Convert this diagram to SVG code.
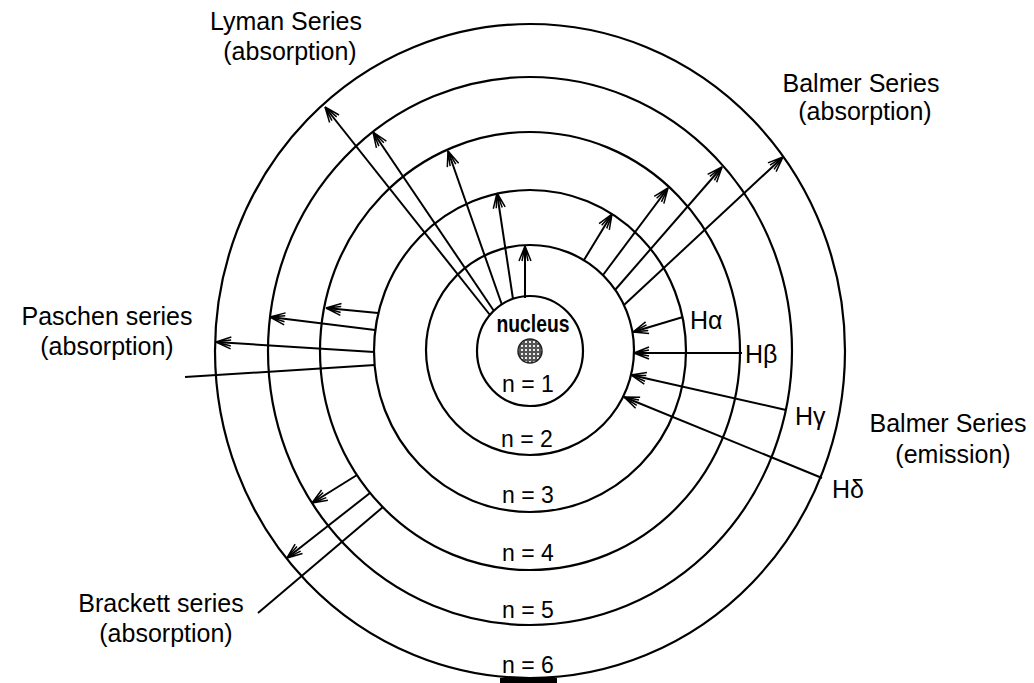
<svg xmlns="http://www.w3.org/2000/svg" width="1034" height="683" viewBox="0 0 1034 683">
<style>
.orbit{fill:none;stroke:#000;stroke-width:2.2}
.ln{fill:none;stroke:#000;stroke-width:2}
.arr{marker-end:url(#ah)}
.lbl{font-family:"Liberation Sans",Arial,sans-serif;font-size:25px;fill:#000;text-anchor:middle}
.hl{font-family:"Liberation Sans",Arial,sans-serif;font-size:25px;fill:#000}
.nl{font-family:"Liberation Sans",Arial,sans-serif;font-size:23px;fill:#000;text-anchor:middle}
</style>
<defs>
<marker id="ah" viewBox="-18 -9 20 18" refX="0" refY="0" markerWidth="20" markerHeight="18" markerUnits="userSpaceOnUse" orient="auto">
<path d="M0,0 L-6,-2.5 L-6,2.5 Z" fill="#000"/>
<path d="M0,0 L-15,-6 M0,0 L-15,6 M-5,-1 L-15,-3 M-5,1 L-15,3" stroke="#000" stroke-width="1.5" fill="none"/>
</marker>
<pattern id="dots" width="4" height="4" patternUnits="userSpaceOnUse">
<rect width="4" height="4" fill="#555"/>
<rect x="1" y="1" width="2" height="2" fill="#eee"/>
</pattern>
</defs>
<rect width="1034" height="683" fill="#fff"/>

<g id="orbits">
<ellipse id="orbit-n1" class="orbit" cx="530" cy="351" rx="53" ry="55"/>
<ellipse id="orbit-n2" class="orbit" cx="530" cy="350" rx="104" ry="105"/>
<ellipse id="orbit-n3" class="orbit" cx="530" cy="351" rx="156" ry="161"/>
<ellipse id="orbit-n4" class="orbit" cx="530" cy="351" rx="210" ry="219"/>
<ellipse id="orbit-n5" class="orbit" cx="530" cy="351" rx="262" ry="274"/>
<ellipse id="orbit-n6" class="orbit" cx="530" cy="351" rx="315" ry="327"/>
<rect x="500" y="678" width="57" height="5" fill="#000"/>
</g>

<g id="nucleus">
<circle cx="530" cy="351" r="12" fill="url(#dots)" stroke="#222" stroke-width="1.5"/>
<text x="533" y="332" class="nl" font-weight="bold" font-size="21" textLength="73" lengthAdjust="spacingAndGlyphs">nucleus</text>
</g>

<g id="level-labels">
<text class="nl" x="528" y="392">n = 1</text>
<text class="nl" x="527" y="447">n = 2</text>
<text class="nl" x="528" y="503">n = 3</text>
<text class="nl" x="528" y="561">n = 4</text>
<text class="nl" x="528" y="618">n = 5</text>
<text class="nl" x="528" y="673">n = 6</text>
</g>

<g id="connectors">
<!-- Lyman -->
<path class="ln arr" d="M525,298 L525,246"/>
<path class="ln arr" d="M513,299 L497,193"/>
<path class="ln arr" d="M502,305 L448,151"/>
<path class="ln arr" d="M494,311 L373,132"/>
<path class="ln arr" d="M490,315 L325,107"/>
<!-- Balmer absorption -->
<path class="ln arr" d="M584,260 L612,214"/>
<path class="ln arr" d="M603,275 L668,188"/>
<path class="ln arr" d="M615,290 L722,167"/>
<path class="ln arr" d="M624,305 L783,157"/>
<!-- Balmer emission -->
<path class="ln arr" d="M683,317 L633,332"/>
<path class="ln arr" d="M742,353 L634,353"/>
<path class="ln arr" d="M786,410 L631,375"/>
<path class="ln arr" d="M822,478 L624,397"/>
<!-- Paschen -->
<path class="ln arr" d="M378,313 L326,308"/>
<path class="ln arr" d="M375,330 L270,317"/>
<path class="ln arr" d="M374,352 L216,342"/>
<path class="ln" d="M375,365 L185,377"/>
<!-- Brackett -->
<path class="ln arr" d="M357,475 L312,503"/>
<path class="ln arr" d="M370,493 L287,558"/>
<path class="ln" d="M383,507 L258,613"/>
</g>

<g id="label-lyman">
<text class="lbl" x="286" y="30">Lyman Series</text>
<text class="lbl" x="290" y="60">(absorption)</text>
</g>
<g id="label-balmer-abs">
<text class="lbl" x="861" y="92">Balmer Series</text>
<text class="lbl" x="865" y="120">(absorption)</text>
</g>
<g id="label-paschen">
<text class="lbl" x="107" y="325">Paschen series</text>
<text class="lbl" x="107" y="355">(absorption)</text>
</g>
<g id="label-balmer-em">
<text class="lbl" x="948" y="432">Balmer Series</text>
<text class="lbl" x="953" y="463">(emission)</text>
</g>
<g id="label-brackett">
<text class="lbl" x="161" y="612">Brackett series</text>
<text class="lbl" x="166" y="642">(absorption)</text>
</g>
<g id="label-h">
<text class="hl" x="690" y="329">Hα</text>
<text class="hl" x="745" y="363">Hβ</text>
<text class="hl" x="795" y="425">Hγ</text>
<text class="hl" x="832" y="498">Hδ</text>
</g>
</svg>
